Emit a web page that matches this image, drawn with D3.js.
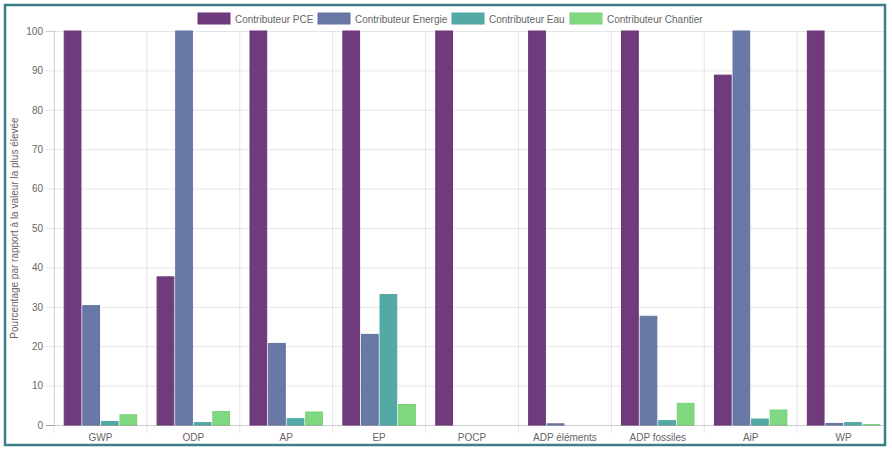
<!DOCTYPE html>
<html>
<head>
<meta charset="utf-8">
<script src="https://cdn.jsdelivr.net/npm/d3@7"></script>
<style>
  body { margin: 0; background: #fff; }
  svg { display: block; font-family: "Liberation Sans", Arial, sans-serif; }
</style>
</head>
<body>
<div id="chart"></div>
<script>
var width = 892;
var height = 456;

var categories = ["GWP", "ODP", "AP", "EP", "POCP", "ADP éléments", "ADP fossiles", "AiP", "WP"];
var seriesNames = ["Contributeur PCE", "Contributeur Energie", "Contributeur Eau", "Contributeur Chantier"];
var pce = [100, 37.6, 100, 100, 100, 100, 100, 88.8, 100];
var energie = [30.3, 100, 20.7, 23, 0, 0.3, 27.6, 100, 0.4];
var eau = [0.9, 0.6, 1.6, 33.1, 0, 0, 1.1, 1.5, 0.6];
var chantier = [2.6, 3.4, 3.3, 5.2, 0, 0, 5.5, 3.8, 0.1];
var yTicks = [0, 10, 20, 30, 40, 50, 60, 70, 80, 90, 100];

var colors = ["#703b7c", "#6879a8", "#53aaa5", "#80d880"];
var strokes = ["#6a3576", "#6273a2", "#4ea49f", "#78d078"];

var margin = {left: 54, right: 890, top: 31, bottom: 425};

var allSeries = [pce, energie, eau, chantier];

var svg = d3.select("#chart")
            .append("svg")
            .attr("width", width)
            .attr("height", height);

var x = d3.scaleBand()
          .domain(categories)
          .range([margin.left, margin.right]);

var x1 = d3.scaleBand()
           .domain(d3.range(seriesNames.length))
           .range([0, x.bandwidth()])
           .paddingOuter(0.55)
           .paddingInner(0.1);

var y = d3.scaleLinear()
          .domain([0, 100])
          .range([margin.bottom, margin.top]);

//Horizontal gridlines
svg.append("g")
   .attr("transform", "translate(" + margin.left + ",0)")
   .call(d3.axisLeft(y).tickValues(yTicks).tickSize(-(margin.right - margin.left)).tickSizeOuter(0).tickFormat(""))
   .call(g => g.select(".domain").remove())
   .call(g => g.selectAll("line").attr("stroke", "rgba(0,0,0,0.1)"))
   .call(g => g.selectAll(".tick").filter(d => d === 0).remove());

//Y tick marks and labels
var yAxis = svg.append("g")
   .attr("transform", "translate(" + margin.left + ",0)")
   .call(d3.axisLeft(y).tickValues(yTicks).tickSize(8).tickPadding(3))
   .call(g => g.select(".domain").attr("stroke", "rgba(0,0,0,0.1)"));
yAxis.selectAll("line").attr("stroke", "rgba(0,0,0,0.1)");
yAxis.selectAll("text").attr("fill", "#666").style("font-size", "10px");

//Vertical gridlines at category boundaries
var bounds = categories.map(c => x(c)).concat([margin.right]);
svg.append("g")
   .selectAll("line")
   .data(bounds)
   .enter()
   .append("line")
   .attr("x1", d => d).attr("x2", d => d)
   .attr("y1", margin.top).attr("y2", margin.bottom + 8)
   .attr("stroke", "rgba(0,0,0,0.1)");

//Bars
var groups = svg.selectAll(".cat")
                .data(categories)
                .enter()
                .append("g")
                .attr("class", "cat")
                .attr("transform", d => "translate(" + x(d) + ",0)");

groups.selectAll("rect")
      .data((c, i) => allSeries.map((s, k) => ({k: k, value: s[i]})))
      .enter()
      .append("rect")
      .filter(d => d.value > 0)
      .attr("x", d => x1(d.k))
      .attr("width", x1.bandwidth())
      .attr("y", d => y(d.value))
      .attr("height", d => y(0) - y(d.value))
      .attr("fill", d => colors[d.k])
      .attr("stroke", d => strokes[d.k])
      .attr("stroke-width", 1);

//Zero line
svg.append("line")
   .attr("x1", margin.left - 8).attr("x2", margin.right)
   .attr("y1", y(0) + 0.5).attr("y2", y(0) + 0.5)
   .attr("stroke", "rgba(0,0,0,0.2)");

//X labels
svg.append("g")
   .selectAll("text")
   .data(categories)
   .enter()
   .append("text")
   .attr("x", d => x(d) + x.bandwidth() / 2)
   .attr("y", 441)
   .attr("text-anchor", "middle")
   .attr("fill", "#666")
   .style("font-size", "10px")
   .text(d => d);

//Y axis title
svg.append("text")
   .attr("transform", "translate(18," + (margin.top + margin.bottom) / 2 + ") rotate(-90)")
   .attr("text-anchor", "middle")
   .attr("fill", "#666")
   .style("font-size", "10px")
   .text("Pourcentage par rapport à la valeur la plus élevée");

//Legend
var legendX = [198, 318, 452, 570];
var legend = svg.selectAll(".legend")
                .data(seriesNames)
                .enter()
                .append("g")
                .attr("class", "legend")
                .attr("transform", (d, i) => "translate(" + legendX[i] + ",13)");
legend.append("rect")
      .attr("width", 32).attr("height", 11)
      .attr("fill", (d, i) => colors[i])
      .attr("stroke", (d, i) => strokes[i]);
legend.append("text")
      .attr("x", 37).attr("y", 9.5)
      .attr("fill", "#666")
      .style("font-size", "10px")
      .text(d => d);

//Frame
svg.append("rect")
   .attr("x", 886).attr("y", 0).attr("width", 6).attr("height", height)
   .attr("fill", "#fff");
svg.append("rect")
   .attr("x", 5).attr("y", 5).attr("width", 880).attr("height", 440)
   .attr("fill", "none")
   .attr("stroke", "#3a7f8a")
   .attr("stroke-width", 2.5);
</script>
</body>
</html>
